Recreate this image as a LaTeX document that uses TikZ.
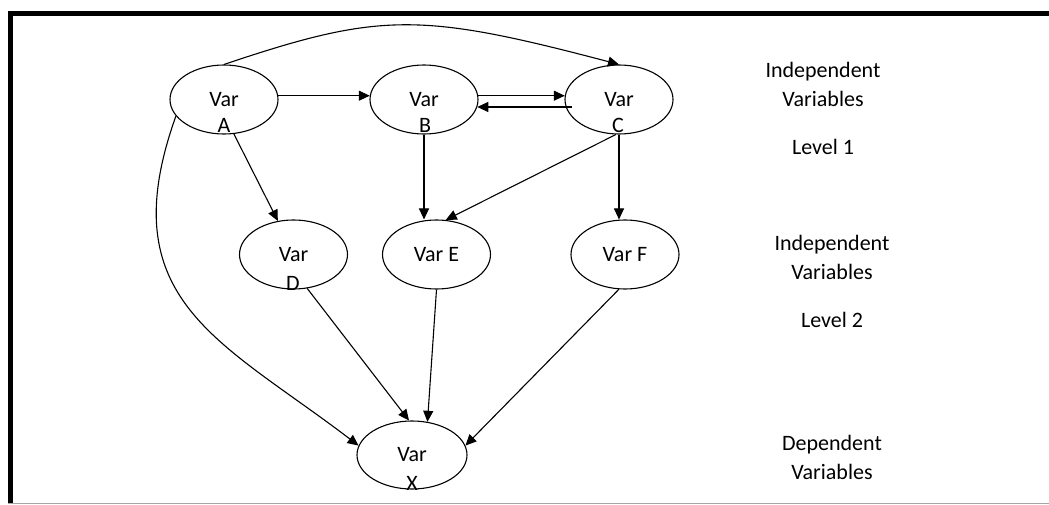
\documentclass[tikz,border=0pt]{standalone}
\usepackage{fontspec}
\setmainfont{Carlito}
\usetikzlibrary{shapes.geometric,arrows.meta}
\begin{document}
\begin{tikzpicture}[x=1pt,y=-1pt,
  ell/.style={draw,ellipse,line width=1.1pt,minimum width=108pt,minimum height=69pt,inner sep=0pt,font=\fontsize{22}{26}\selectfont},
  lbl/.style={anchor=base,inner sep=0pt,font=\fontsize{22}{26}\selectfont},
  arr/.style={line width=1.1pt,-{Triangle[length=11pt,width=10pt]}}]
\useasboundingbox (0,0) rectangle (1049,505);
% frame
\fill[black] (8,11) rectangle (1049,16);
\fill[black] (8,11) rectangle (13,503);
\draw[black!35,line width=1pt] (8,503.5) -- (1049,503.5);
% ellipses
\node[ell] (A) at (224,99.5) {Var};
\node[ell] (B) at (424,99.5) {Var};
\node[ell] (C) at (619,99.5) {Var};
\node[ell] (D) at (293.5,254.5) {Var};
\node[ell] (E) at (436.5,254.5) {Var E};
\node[ell] (F) at (625,254.5) {Var F};
\node[ell,minimum width=110pt,minimum height=68pt] (X) at (412,455) {Var};
% letters
\node[lbl] (Al) at (224,133) {A};
\node[lbl] (Bl) at (425,133) {B};
\node[lbl] (Cl) at (618,133) {C};
\node[lbl] (Dl) at (293,290) {D};
\node[lbl] (Xl) at (412,490) {X};
% side texts
\node[lbl] (t1a) at (823,78) {Independent};
\node[lbl] (t1b) at (823,107) {Variables};
\node[lbl] (t1c) at (823,155) {Level 1};
\node[lbl] (t2a) at (832,250) {Independent};
\node[lbl] (t2b) at (832,279) {Variables};
\node[lbl] (t2c) at (832,327.7) {Level 2};
\node[lbl] (t3a) at (832,450) {Dependent};
\node[lbl] (t3b) at (832,479) {Variables};
% connectors
\draw[arr] (A.4) -- (B.176);
\draw[arr] (B.4) -- (C.176);
\draw[arr] ([xshift=6pt]C.188) -- (B.352);
\draw[arr] (A.north) .. controls (380,12) and (420,12) .. (C.north);
\draw[arr] (A.286) -- (D.115);
\draw[arr] (B.south) -- (B.south |- E.north);
\draw[arr] (C.265) -- (E.75);
\draw[arr] (C.south) -- (C.south |- F.north);
\draw[arr] (A.199) .. controls (110,300) and (220,340) .. (X.170);
\draw[arr] (D.292) -- (X.95);
\draw[arr] (E.south) -- (X.65);
\draw[arr] (F.260) -- (X.10);
\end{tikzpicture}
\end{document}
